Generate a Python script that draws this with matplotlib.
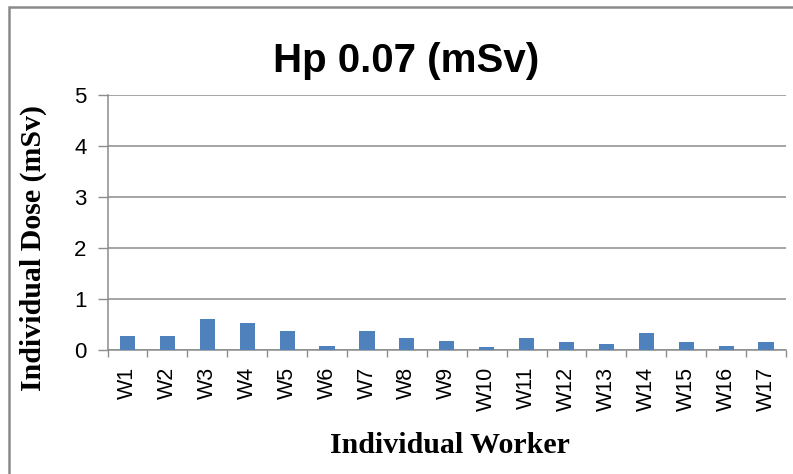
import matplotlib

matplotlib.use("Agg")
import matplotlib.pyplot as plt
import numpy as np
from matplotlib.patches import Rectangle

# Dose per worker.
WORKERS = [f"W{i}" for i in range(1, 18)]
DOSE = [0.28, 0.28, 0.61, 0.53, 0.38, 0.08, 0.38, 0.23, 0.18,
        0.06, 0.23, 0.16, 0.11, 0.34, 0.16, 0.08, 0.16]
Y_TICKS = [0, 1, 2, 3, 4, 5]

BAR_BLUE = "#4F81BD"
GRID_GREY = "#8C8C8C"
BORDER_GREY = "#8A8A8A"

W, H = 793, 474
fig = plt.figure(figsize=(W / 100, H / 100), dpi=100)

# axes box in pixels: left 107.5, right 786, top 95.5, bottom 350
ax = fig.add_axes([107.5 / W, 1 - 350 / H, (786 - 107.5) / W, (350 - 95.5) / H])

x = np.arange(len(WORKERS))
ax.bar(x, DOSE, width=0.38, color=BAR_BLUE, zorder=3)

ax.set_xlim(-0.5, len(WORKERS) - 0.5)
ax.set_ylim(0, 5)
ax.set_yticks(Y_TICKS)
ax.set_yticklabels([str(t) for t in Y_TICKS], fontsize=16, family="Liberation Sans")
ax.yaxis.grid(True, color=GRID_GREY, linewidth=1.1, zorder=0)
ax.set_axisbelow(True)

# category labels at centers, tick marks at the boundaries (Excel style)
ax.set_xticks(x)
ax.set_xticklabels(WORKERS, rotation=90, fontsize=15.5, family="Liberation Sans")
ax.tick_params(axis="x", which="major", length=0, pad=12)
ax.set_xticks(np.arange(len(WORKERS) + 1) - 0.5, minor=True)
ax.tick_params(axis="x", which="minor", length=5, width=1, color=GRID_GREY, direction="out")
ax.tick_params(axis="y", length=7, width=1, color=GRID_GREY, direction="out", pad=8)

for side in ["top", "right"]:
    ax.spines[side].set_visible(False)
for side in ["left", "bottom"]:
    ax.spines[side].set_color(GRID_GREY)
    ax.spines[side].set_linewidth(1.1)

ax.set_ylabel("Individual Dose (mSv)", fontsize=21.5, fontweight="bold", family="Liberation Serif")
ax.yaxis.set_label_coords(-0.089, 0.40)
ax.text(0.505, -0.405, "Individual Worker", transform=ax.transAxes, ha="center", va="baseline",
        fontsize=21.5, fontweight="bold", family="Liberation Serif")

fig.text(406 / W, 1 - 72 / H, "Hp 0.07 (mSv)", ha="center", va="baseline",
         fontsize=29, fontweight="bold", family="Liberation Sans")

# chart-area border, running off the right and bottom edges
fig.patches.append(Rectangle((9 / W, -0.1), 1.2, 1.1 - 7 / H, transform=fig.transFigure,
                             fill=False, edgecolor=BORDER_GREY, linewidth=1.8))

fig.savefig("out.png", dpi=100)
